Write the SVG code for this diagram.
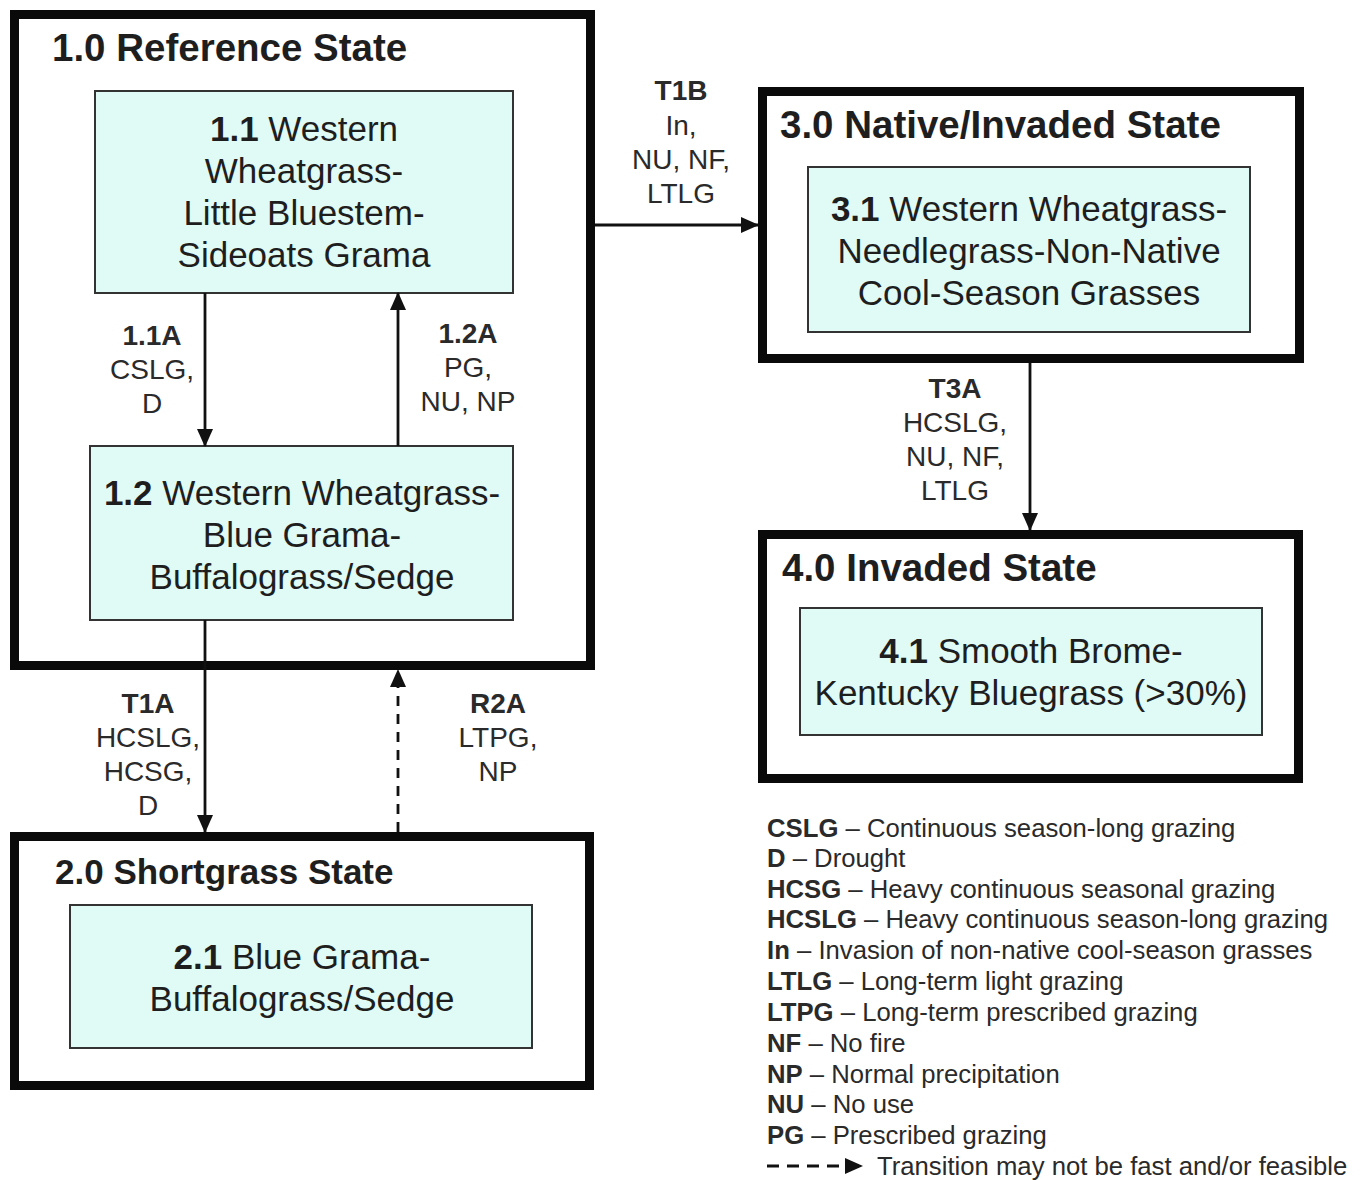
<svg xmlns="http://www.w3.org/2000/svg" width="1363" height="1180" viewBox="0 0 1363 1180">
<defs>
<style>
.state{fill:#fff;stroke:#0a0a0a;stroke-width:9}
.comm{fill:#e0fbf6;stroke:#333;stroke-width:2}
text{font-family:"Liberation Sans",Arial,sans-serif;fill:#1e1e1e}
.title{font-size:38.5px;font-weight:bold}
.node{font-size:35px;text-anchor:middle}
.lbl{font-size:28px;text-anchor:middle;fill:#2a2a2a}
.leg{font-size:25.7px;fill:#2a2a2a}
.b{font-weight:bold}
.conn{stroke:#111;stroke-width:2.8;fill:none}
</style>
<marker id="ah" viewBox="0 0 18 16" refX="17" refY="8" markerWidth="18" markerHeight="16" markerUnits="userSpaceOnUse" orient="auto">
<path d="M0,0 L18,8 L0,16 z" fill="#111"/>
</marker>
</defs>
<rect width="1363" height="1180" fill="#fff"/>

<g id="state1">
<rect class="state" x="14.5" y="14.5" width="576" height="651"/>
<text class="title" x="52" y="61">1.0 Reference State</text>
</g>
<g id="comm11">
<rect class="comm" x="95" y="91" width="418" height="202"/>
<text class="node" x="304" y="141"><tspan class="b">1.1</tspan> Western</text>
<text class="node" x="304" y="183">Wheatgrass-</text>
<text class="node" x="304" y="225">Little Bluestem-</text>
<text class="node" x="304" y="267">Sideoats Grama</text>
</g>
<g id="comm12">
<rect class="comm" x="90" y="446" width="423" height="174"/>
<text class="node" x="302" y="505"><tspan class="b">1.2</tspan> Western Wheatgrass-</text>
<text class="node" x="302" y="547">Blue Grama-</text>
<text class="node" x="302" y="589">Buffalograss/Sedge</text>
</g>

<g id="state2">
<rect class="state" x="14.5" y="836.5" width="575" height="249"/>
<text class="title" x="55" y="884" style="font-size:35px">2.0 Shortgrass State</text>
</g>
<g id="comm21">
<rect class="comm" x="70" y="905" width="462" height="143"/>
<text class="node" x="302" y="969"><tspan class="b">2.1</tspan> Blue Grama-</text>
<text class="node" x="302" y="1011">Buffalograss/Sedge</text>
</g>

<g id="state3">
<rect class="state" x="762.5" y="91.5" width="537" height="267"/>
<text class="title" x="780" y="138">3.0 Native/Invaded State</text>
</g>
<g id="comm31">
<rect class="comm" x="808" y="167" width="442" height="165"/>
<text class="node" x="1029" y="221"><tspan class="b">3.1</tspan> Western Wheatgrass-</text>
<text class="node" x="1029" y="263">Needlegrass-Non-Native</text>
<text class="node" x="1029" y="305">Cool-Season Grasses</text>
</g>

<g id="state4">
<rect class="state" x="762.5" y="534.5" width="536" height="244"/>
<text class="title" x="782" y="581">4.0 Invaded State</text>
</g>
<g id="comm41">
<rect class="comm" x="800" y="608" width="462" height="127"/>
<text class="node" x="1031" y="663"><tspan class="b">4.1</tspan> Smooth Brome-</text>
<text class="node" x="1031" y="705">Kentucky Bluegrass (&gt;30%)</text>
</g>

<g id="connectors">
<line class="conn" x1="205" y1="293" x2="205" y2="446" marker-end="url(#ah)"/>
<line class="conn" x1="398" y1="446" x2="398" y2="293" marker-end="url(#ah)"/>
<line class="conn" x1="205" y1="620" x2="205" y2="832" marker-end="url(#ah)"/>
<line class="conn" x1="398" y1="832" x2="398" y2="670" stroke-dasharray="10 8" marker-end="url(#ah)"/>
<line class="conn" x1="595" y1="225" x2="758" y2="225" marker-end="url(#ah)"/>
<line class="conn" x1="1030" y1="363" x2="1030" y2="530" marker-end="url(#ah)"/>
</g>

<g id="labels">
<text class="lbl" x="152" y="345"><tspan class="b">1.1A</tspan></text>
<text class="lbl" x="152" y="379">CSLG,</text>
<text class="lbl" x="152" y="413">D</text>
<text class="lbl" x="468" y="343"><tspan class="b">1.2A</tspan></text>
<text class="lbl" x="468" y="377">PG,</text>
<text class="lbl" x="468" y="411">NU, NP</text>
<text class="lbl" x="148" y="713"><tspan class="b">T1A</tspan></text>
<text class="lbl" x="148" y="747">HCSLG,</text>
<text class="lbl" x="148" y="781">HCSG,</text>
<text class="lbl" x="148" y="815">D</text>
<text class="lbl" x="498" y="713"><tspan class="b">R2A</tspan></text>
<text class="lbl" x="498" y="747">LTPG,</text>
<text class="lbl" x="498" y="781">NP</text>
<text class="lbl" x="681" y="100"><tspan class="b">T1B</tspan></text>
<text class="lbl" x="681" y="135">In,</text>
<text class="lbl" x="681" y="169">NU, NF,</text>
<text class="lbl" x="681" y="203">LTLG</text>
<text class="lbl" x="955" y="398"><tspan class="b">T3A</tspan></text>
<text class="lbl" x="955" y="432">HCSLG,</text>
<text class="lbl" x="955" y="466">NU, NF,</text>
<text class="lbl" x="955" y="500">LTLG</text>
</g>

<g id="legend">
<text class="leg" x="767" y="837"><tspan class="b">CSLG</tspan> – Continuous season-long grazing</text>
<text class="leg" x="767" y="867"><tspan class="b">D</tspan> – Drought</text>
<text class="leg" x="767" y="898"><tspan class="b">HCSG</tspan> – Heavy continuous seasonal grazing</text>
<text class="leg" x="767" y="928"><tspan class="b">HCSLG</tspan> – Heavy continuous season-long grazing</text>
<text class="leg" x="767" y="959"><tspan class="b">In</tspan> – Invasion of non-native cool-season grasses</text>
<text class="leg" x="767" y="990"><tspan class="b">LTLG</tspan> – Long-term light grazing</text>
<text class="leg" x="767" y="1021"><tspan class="b">LTPG</tspan> – Long-term prescribed grazing</text>
<text class="leg" x="767" y="1052"><tspan class="b">NF</tspan> – No fire</text>
<text class="leg" x="767" y="1083"><tspan class="b">NP</tspan> – Normal precipitation</text>
<text class="leg" x="767" y="1113"><tspan class="b">NU</tspan> – No use</text>
<text class="leg" x="767" y="1144"><tspan class="b">PG</tspan> – Prescribed grazing</text>
<line class="conn" x1="767" y1="1166" x2="862" y2="1166" stroke-dasharray="12 8" marker-end="url(#ah)"/>
<text class="leg" x="877" y="1175">Transition may not be fast and/or feasible</text>
</g>
</svg>
